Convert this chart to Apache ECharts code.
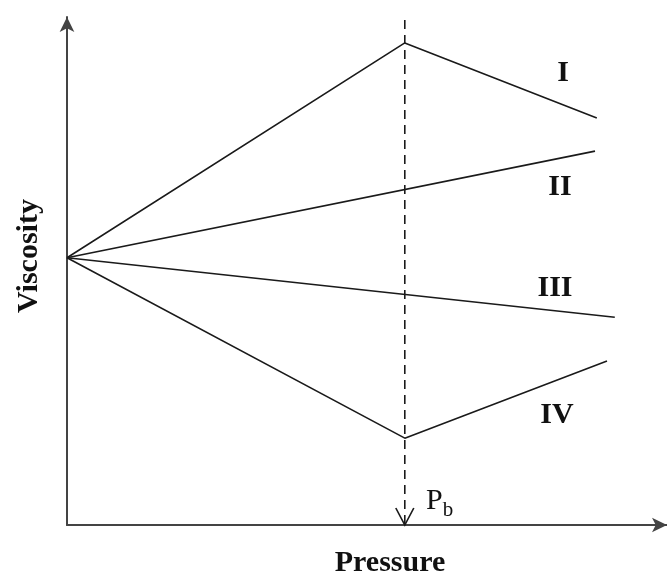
<!DOCTYPE html>
<html>
<head>
<meta charset="utf-8">
<script src="https://cdn.jsdelivr.net/npm/echarts@6/dist/echarts.min.js"></script>
<style>
  html, body { margin: 0; padding: 0; background: #fff; }
  #chart { width: 667px; height: 578px; }
</style>
</head>
<body>
<div id="chart"></div>
<script>
// schematic curves, arbitrary units (pressure 0-100, viscosity 0-100)
var pb = 56.3;
var curveI = [[0, 52.6], [pb, 94.9], [88.3, 80.1]];
var curveII = [[0, 52.6], [88, 73.6]];
var curveIII = [[0, 52.6], [91.3, 40.9]];
var curveIV = [[0, 52.6], [pb, 17.1], [90, 32.3]];
var pbLine = [[pb, 99.4], [pb, 0]];
var curveNames = ['I', 'II', 'III', 'IV'];

var serif = "'Liberation Serif', 'Times New Roman', serif";
var myChart = echarts.init(document.getElementById('chart'));

function curve(name, data) {
  return {
    name: name,
    type: 'line',
    data: data,
    symbol: 'none',
    silent: true,
    lineStyle: { color: '#1a1a1a', width: 1.6 }
  };
}

function label(text, x, y) {
  return {
    type: 'text', x: x, y: y,
    style: { text: text, font: 'bold 30px ' + serif, fill: '#111', align: 'center', verticalAlign: 'middle', textAlign: 'center', textVerticalAlign: 'middle' }
  };
}

var axisLine = { lineStyle: { color: '#444', width: 2 }, symbol: ['none', 'arrow'], symbolSize: [11, 15] };

myChart.setOption({
  animation: false,
  grid: { left: 67, right: 0, top: 17, bottom: 53 },
  xAxis: {
    type: 'value', min: 0, max: 100,
    axisLine: axisLine,
    axisTick: { show: false }, axisLabel: { show: false }, splitLine: { show: false }
  },
  yAxis: {
    type: 'value', min: 0, max: 100,
    axisLine: axisLine,
    axisTick: { show: false }, axisLabel: { show: false }, splitLine: { show: false }
  },
  series: [
    curve(curveNames[0], curveI),
    curve(curveNames[1], curveII),
    curve(curveNames[2], curveIII),
    curve(curveNames[3], curveIV),
    {
      name: 'Pb',
      type: 'line',
      silent: true,
      showSymbol: true,
      data: [
        { value: pbLine[0], symbol: 'none' },
        {
          value: pbLine[1],
          symbol: 'path://M0,0 L9,17 L18,0',
          symbolSize: [18, 17],
          symbolOffset: [0, '-50%'],
          itemStyle: { color: 'none', borderColor: '#1a1a1a', borderWidth: 1.6 }
        }
      ],
      lineStyle: { color: '#1a1a1a', width: 1.6, type: [9, 6] }
    }
  ],
  graphic: [
    label(curveNames[0], 563, 73),
    label(curveNames[1], 560, 187),
    label(curveNames[2], 555, 288),
    label(curveNames[3], 557, 415),
    label('Pressure', 390, 563),
    (function () {
      var t = label('Viscosity', 29, 256);
      t.rotation = Math.PI / 2;
      return t;
    })(),
    {
      type: 'text', x: 426, y: 501,
      style: {
        text: '{p|P}{b|b}',
        fill: '#111', align: 'left', verticalAlign: 'middle', textAlign: 'left', textVerticalAlign: 'middle',
        rich: {
          p: { fontFamily: serif, fontSize: 30, fill: '#111', color: '#111' },
          b: { fontFamily: serif, fontSize: 21, fill: '#111', color: '#111', padding: [18, 0, 0, 0] }
        }
      }
    }
  ]
});
</script>
</body>
</html>
